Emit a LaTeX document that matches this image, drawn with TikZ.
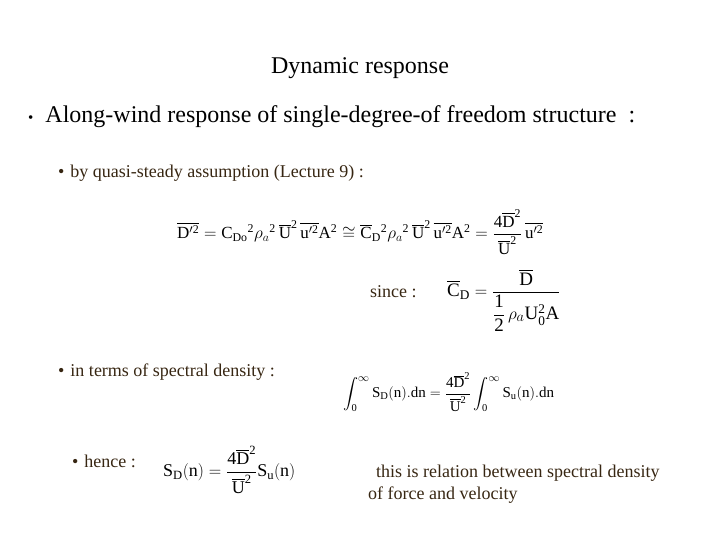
\documentclass[tikz,border=0pt]{standalone}
\usepackage{fontspec}
\usepackage{amsmath,amssymb}
\setmainfont{Liberation Serif}
\setmathrm{Liberation Serif}
\definecolor{brn}{RGB}{55,38,18}
\newcommand{\tw}{{\mathrm{2}}}
\newcommand{\fr}{\mathrm{4}}
\begin{document}
\begin{tikzpicture}[x=1pt,y=-1pt,
  tx/.style={anchor=west,inner sep=0pt,text=brn},
  eq/.style={anchor=west,inner sep=0pt}]
\useasboundingbox (0,0) rectangle (720,540);
\node[inner sep=0pt,font=\fontsize{24}{28}\selectfont] (title) at (360,68) {Dynamic response};
\node[tx,text=black,font=\fontsize{24}{28}\selectfont] (b1) at (28,117) {{\fontsize{15}{15}\selectfont\textbullet}\hspace{12pt}Along-wind response of single-degree-of freedom structure\ \ :};
\node[tx,font=\fontsize{18}{21}\selectfont] (b2) at (58,173) {\textbullet\hspace{6pt}by quasi-steady assumption (Lecture 9) :};
\node[eq,font=\fontsize{17}{20}\selectfont] (e1) at (177,232) {$\overline{\mathrm{D}'^\tw}=\mathrm{C_{Do}}^\tw\rho_a{}^\tw\,\overline{\mathrm{U}}^\tw\,\overline{\mathrm{u}'^\tw}\mathrm{A}^\tw\cong\overline{\mathrm{C}}_{\mathrm{D}}{}^\tw\rho_a{}^\tw\,\overline{\mathrm{U}}^\tw\,\overline{\mathrm{u}'^\tw}\mathrm{A}^\tw=\dfrac{\fr\overline{\mathrm{D}}^\tw}{\overline{\mathrm{U}}^\tw}\,\overline{\mathrm{u}'^\tw}$};
\node[tx,font=\fontsize{18}{21}\selectfont] (since) at (370,292) {since :};
\node[eq,font=\fontsize{19}{22}\selectfont] (e2) at (447,300) {$\overline{\mathrm{C}}_{\mathrm{D}}=\dfrac{\overline{\mathrm{D}}}{\dfrac{\mathrm{1}}{\mathrm{2}}\,\rho_a\mathrm{U}_{\mathrm{0}}^\tw\mathrm{A}}$};
\node[tx,font=\fontsize{18}{21}\selectfont] (b3) at (58,372) {\textbullet\hspace{6pt}in terms of spectral density :};
\node[eq,font=\fontsize{15}{18}\selectfont] (e3) at (343,392) {$\displaystyle\int_{\mathrm{0}}^\infty\mathrm{S_D(n).dn}=\frac{\fr\overline{\mathrm{D}}^\tw}{\overline{\mathrm{U}}^\tw}\int_{\mathrm{0}}^\infty\mathrm{S_u(n).dn}$};
\node[tx,font=\fontsize{18}{21}\selectfont] (b4) at (72,461) {\textbullet\hspace{6pt}hence :};
\node[eq,font=\fontsize{18}{21}\selectfont] (e4) at (163,470) {$\mathrm{S_D(n)}=\dfrac{\fr\overline{\mathrm{D}}^\tw}{\overline{\mathrm{U}}^\tw}\mathrm{S_u(n)}$};
\node[tx,font=\fontsize{18}{21}\selectfont] (r1) at (376,473) {this is relation between spectral density};
\node[tx,font=\fontsize{18}{21}\selectfont] (r2) at (368,495) {of force and velocity};
\end{tikzpicture}
\end{document}
